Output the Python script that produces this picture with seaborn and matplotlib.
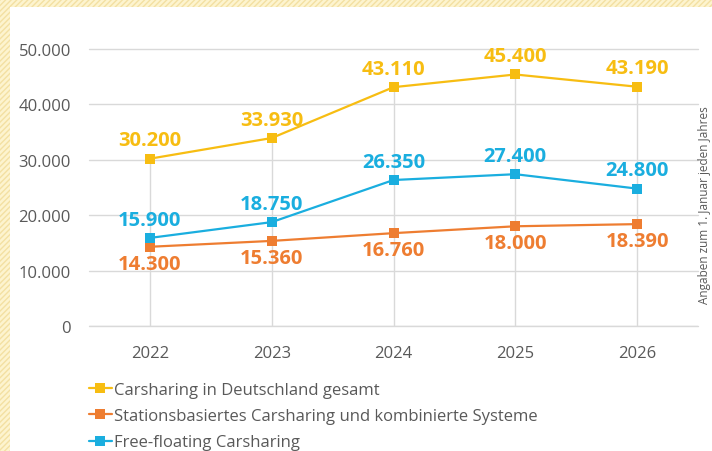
import pandas as pd
import seaborn as sns
import matplotlib.pyplot as plt
from matplotlib.patches import Rectangle

# data
years = ["2022", "2023", "2024", "2025", "2026"]
gesamt = [30200, 33930, 43110, 45400, 43190]
stationsbasiert = [14300, 15360, 16760, 18000, 18390]
free_floating = [15900, 18750, 26350, 27400, 24800]

series_names = ["Carsharing in Deutschland gesamt",
                "Stationsbasiertes Carsharing und kombinierte Systeme",
                "Free-floating Carsharing"]
colors = ["#F7BD12", "#EE7D31", "#1AAEDF"]
label_above = [True, False, True]

df = pd.concat([
    pd.DataFrame({"Jahr": years, "Wert": vals, "Serie": name})
    for name, vals in zip(series_names, [gesamt, stationsbasiert, free_floating])
])

sns.set_style("white")
plt.rcParams['font.family'] = ['Open Sans', 'DejaVu Sans']

fig = plt.figure(figsize=(7.12, 4.52), dpi=100)

# hatched frame top / left
fig.patches.append(Rectangle((0, 0), 1, 1, transform=fig.transFigure,
                             facecolor="#FDF4CF", edgecolor="#F3E0A2",
                             hatch="//////", linewidth=0, zorder=-10))
fig.patches.append(Rectangle((10/712, 0), 1, 1 - 8/452, transform=fig.transFigure,
                             facecolor="white", edgecolor="none", zorder=-9))

ax = fig.add_axes([89/712, 1 - 327/452, 609/712, 277/452])
ax.set_facecolor("none")

# drop lines from the top series down to the axis
ax.vlines(range(len(years)), 0, gesamt, color="#D9D9D9", linewidth=1, zorder=1)

sns.lineplot(data=df, x="Jahr", y="Wert", hue="Serie", palette=colors,
             marker="s", markersize=7, markeredgewidth=0, linewidth=1.6,
             ax=ax, legend=False, sort=False, zorder=3)

for vals, c, above in zip([gesamt, stationsbasiert, free_floating], colors, label_above):
    for i, v in enumerate(vals):
        ax.annotate(f"{v:,}".replace(",", "."), (i, v),
                    xytext=(0, 6 if above else -5), textcoords="offset points",
                    ha="center", va="bottom" if above else "top",
                    color=c, fontsize=14.5, fontweight="bold", zorder=4)

ax.set_xlim(-0.5, len(years) - 0.5)
ax.set_ylim(0, 50000)
ax.set_yticks(range(0, 50001, 10000))
ax.set_yticklabels([f"{t:,}".replace(",", ".") if t else "0" for t in range(0, 50001, 10000)])
ax.yaxis.grid(True, color="#D9D9D9", linewidth=1)
ax.set_axisbelow(True)
for s in ax.spines.values():
    s.set_visible(False)
ax.axhline(0, color="#D9D9D9", linewidth=1, zorder=0)
ax.tick_params(axis="both", length=0, labelsize=12, colors="#595959")
ax.tick_params(axis="y", pad=13)
ax.tick_params(axis="x", pad=14)
ax.set_xlabel("")
ax.set_ylabel("")
for gl in ax.get_ygridlines():
    gl.set_clip_on(False)

# legend
handles = [plt.Line2D([], [], color=c, marker="s", markersize=7, markeredgewidth=0,
                      linewidth=1.6) for c in colors]
fig.legend(handles, series_names, loc="upper left", bbox_to_anchor=(82/712, 1 - 376/452),
           frameon=False, fontsize=12, labelcolor="#595959", handlelength=1.4,
           handletextpad=0.1, labelspacing=0.62, borderaxespad=0)

fig.text(698/712, 1 - 205/452, "Angaben zum 1. Januar jeden Jahres", rotation=90,
         ha="left", va="center", fontsize=8.5, color="#595959")

fig.savefig("out.png", dpi=100)
